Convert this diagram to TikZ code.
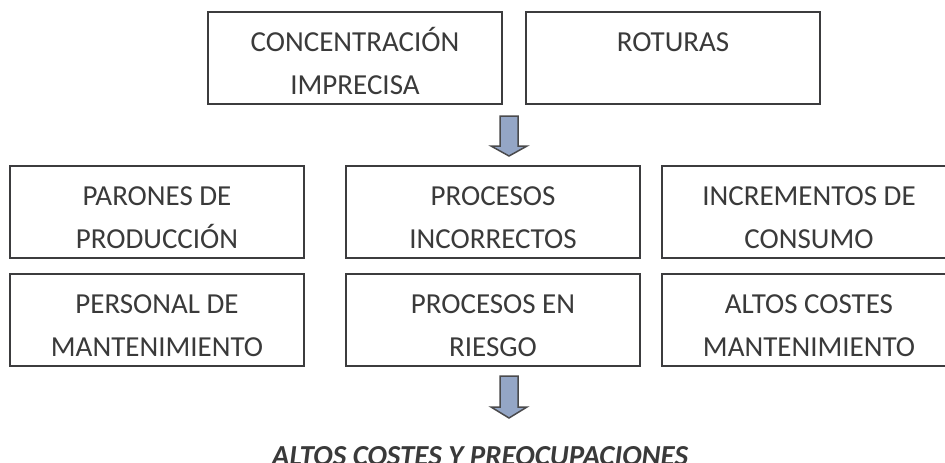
\documentclass[tikz,border=0pt]{standalone}
\usepackage{fontspec}
\setmainfont{Carlito}
\definecolor{boxline}{HTML}{3C3C3E}
\definecolor{txt}{HTML}{3A3A3A}
\definecolor{arrowfill}{HTML}{94A6C6}
\definecolor{arrowline}{HTML}{4A4A4C}
\newcommand\twolines[2]{\vtop{\baselineskip=43pt\halign{\hfil##\hfil\cr#1\cr#2\cr}}}
\begin{document}
\begin{tikzpicture}[x=1pt,y=-1pt,
  textbox/.style={draw=boxline, line width=2pt, minimum width=294pt, inner sep=0pt, outer sep=0pt,
    text height=39pt, text depth=53pt, font=\fontsize{29}{43}\selectfont, text=txt, anchor=north west},
  blockarrow/.style={draw=arrowline, fill=arrowfill, line width=1.5pt, line join=miter}]
\useasboundingbox (0,0) rectangle (945,463);
\clip (0,0) rectangle (945,463);
\fill[white] (0,0) rectangle (945,463);
\node[textbox] (conc) at (208,12) {\twolines{CONCENTRACIÓN}{IMPRECISA}};
\node[textbox] (rot) at (526,12) {\twolines{ROTURAS}{}};
\node[textbox] (par) at (10,166) {\twolines{PARONES DE}{PRODUCCIÓN}};
\node[textbox] (pin) at (346,166) {\twolines{PROCESOS}{INCORRECTOS}};
\node[textbox] (inc) at (662,166) {\twolines{INCREMENTOS DE}{CONSUMO}};
\node[textbox] (per) at (10,274) {\twolines{PERSONAL DE}{MANTENIMIENTO}};
\node[textbox] (pri) at (346,274) {\twolines{PROCESOS EN}{RIESGO}};
\node[textbox] (alt) at (662,274) {\twolines{ALTOS COSTES}{MANTENIMIENTO}};
\draw[blockarrow, shift={(509,116)}] (-9,0) -- (9,0) -- (9,30) -- (18,30) -- (0,40) -- (-18,30) -- (-9,30) -- cycle;
\draw[blockarrow, shift={(509,376)}] (-9,0) -- (9,0) -- (9,31) -- (18,31) -- (0,42) -- (-18,31) -- (-9,31) -- cycle;
\node[font=\fontsize{29}{35}\selectfont\bfseries\itshape, text=txt, anchor=base, inner sep=0pt] (res) at (480,465) {ALTOS COSTES Y PREOCUPACIONES};
\end{tikzpicture}
\end{document}
